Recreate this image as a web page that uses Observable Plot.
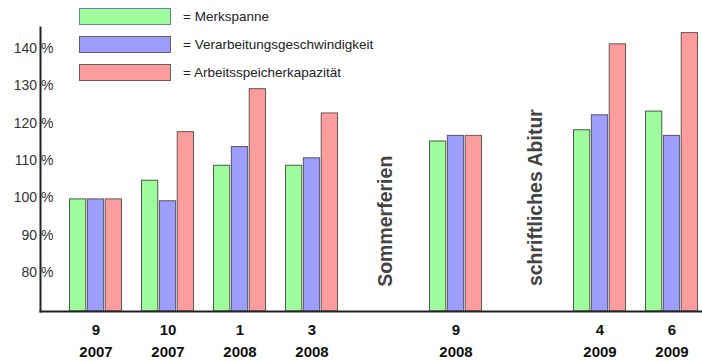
<!DOCTYPE html>
<html>
<head>
<meta charset="utf-8">
<script src="https://cdn.jsdelivr.net/npm/d3@7"></script>
<script src="https://cdn.jsdelivr.net/npm/@observablehq/plot@0.6"></script>
<style>
  html, body { margin: 0; padding: 0; background: #fff; overflow: hidden; }
  #wrap { position: relative; width: 702px; height: 362px; font-family: "Liberation Sans", Arial, sans-serif; }
  #legend { position: absolute; left: 0; top: 0; }
  .item { position: absolute; left: 79px; width: 700px; height: 17px; }
  .sw { position: absolute; left: 0; top: 0; width: 90px; height: 15px; border: 1px solid #6a6a6a; box-sizing: content-box; }
  .lbl { position: absolute; left: 104px; top: 0; line-height: 17px; font-size: 13.5px; color: #222; white-space: nowrap; }
</style>
</head>
<body>
<div id="wrap"><div id="legend"></div></div>
<script>
// slots along the time axis (two empty slots hold the event annotations)
const slots  = ["9/2007", "10/2007", "1/2008", "3/2008", "Sommerferien", "9/2008", "Abitur", "4/2009", "6/2009"];
const months = ["9", "10", "1", "3", "", "9", "", "4", "6"];
const years  = ["2007", "2007", "2008", "2008", "", "2008", "", "2009", "2009"];

// measurement dates and values (% of first measurement)
const dates = ["9/2007", "10/2007", "1/2008", "3/2008", "9/2008", "4/2009", "6/2009"];
const merkspanne      = [100, 105, 109, 109, 115.5, 118.5, 123.5];
const verarbeitung    = [100, 99.5, 114, 111, 117, 122.5, 117];
const arbeitsspeicher = [100, 118, 129.5, 123, 117, 141.5, 144.5];

const seriesNames = ["Merkspanne", "Verarbeitungsgeschwindigkeit", "Arbeitsspeicherkapazität"];
const seriesValues = [merkspanne, verarbeitung, arbeitsspeicher];
const seriesColors = ["#9dfb9b", "#9d9dfb", "#fd9c9c"];
const seriesStrokes = ["#4a5a4a", "#555566", "#6a5555"];

const eventSlots  = ["Sommerferien", "Abitur"];
const eventLabels = ["Sommerferien", "schriftliches Abitur"];
const eventY = [76.6, 76.8];

const yTicks = [80, 90, 100, 110, 120, 130, 140];

const rows = seriesValues.map(vals => dates.map((d, i) => ({slot: d, value: vals[i]})));
const events = eventSlots.map((s, i) => ({slot: s, label: eventLabels[i], y: eventY[i]}));

const groupW = 53.6;
const bw = groupW / 3;
const insets = [[0, 2 * bw], [bw, bw], [2 * bw, 0]];
const eventDx = [2, 8];

const font = "Liberation Sans, Arial, sans-serif";

const chart = Plot.plot({
  width: 702,
  height: 362,
  marginLeft: 40,
  marginRight: 0,
  marginTop: 27,
  marginBottom: 51,
  style: {fontFamily: font, background: "transparent", overflow: "hidden"},
  x: {domain: slots, range: [66, 701.5], paddingInner: 0.264, paddingOuter: 0},
  y: {domain: [70, 146]},
  marks: [
    ...rows.map((data, k) => Plot.barY(data, {
      x: "slot", y1: 70, y2: "value",
      fill: seriesColors[k], stroke: seriesStrokes[k], strokeWidth: 1,
      insetLeft: insets[k][0] + 0.5, insetRight: insets[k][1] + 0.5
    })),
    ...events.map((e, i) => Plot.text([e], {
      x: "slot", y: "y", text: "label", rotate: -90, textAnchor: "start",
      fontSize: 19.5, fontWeight: "bold", fill: "#444", dx: eventDx[i]
    })),
    Plot.axisY({ticks: yTicks, tickSize: 0, tickPadding: -13, tickFormat: d => d + " %",
      fontSize: 14, fill: "#333", label: null, dy: -1.5}),
    Plot.axisX({tickSize: 0, tickPadding: 13, tickFormat: d => months[slots.indexOf(d)],
      fontSize: 15, fontWeight: "bold", fill: "#111", label: null}),
    Plot.axisX({tickSize: 0, tickPadding: 35, tickFormat: d => years[slots.indexOf(d)],
      fontSize: 15, fontWeight: "bold", fill: "#111", label: null}),
    Plot.frame({anchor: "left", stroke: "#222", strokeWidth: 2}),
    Plot.frame({anchor: "bottom", stroke: "#222", strokeWidth: 2})
  ]
});
chart.style.position = "absolute";
chart.style.left = "0px";
chart.style.top = "0px";
document.getElementById("wrap").prepend(chart);

// legend overlay
const legend = document.getElementById("legend");
const legendTops = [8, 36, 64];
seriesNames.forEach((name, i) => {
  const item = document.createElement("div");
  item.className = "item";
  item.style.top = legendTops[i] + "px";
  const sw = document.createElement("div");
  sw.className = "sw";
  sw.style.background = seriesColors[i];
  sw.style.borderColor = i === 0 ? "#6b80b8" : "#6a5a5a";
  const lbl = document.createElement("div");
  lbl.className = "lbl";
  lbl.textContent = "= " + name;
  item.append(sw, lbl);
  legend.append(item);
});
</script>
</body>
</html>
